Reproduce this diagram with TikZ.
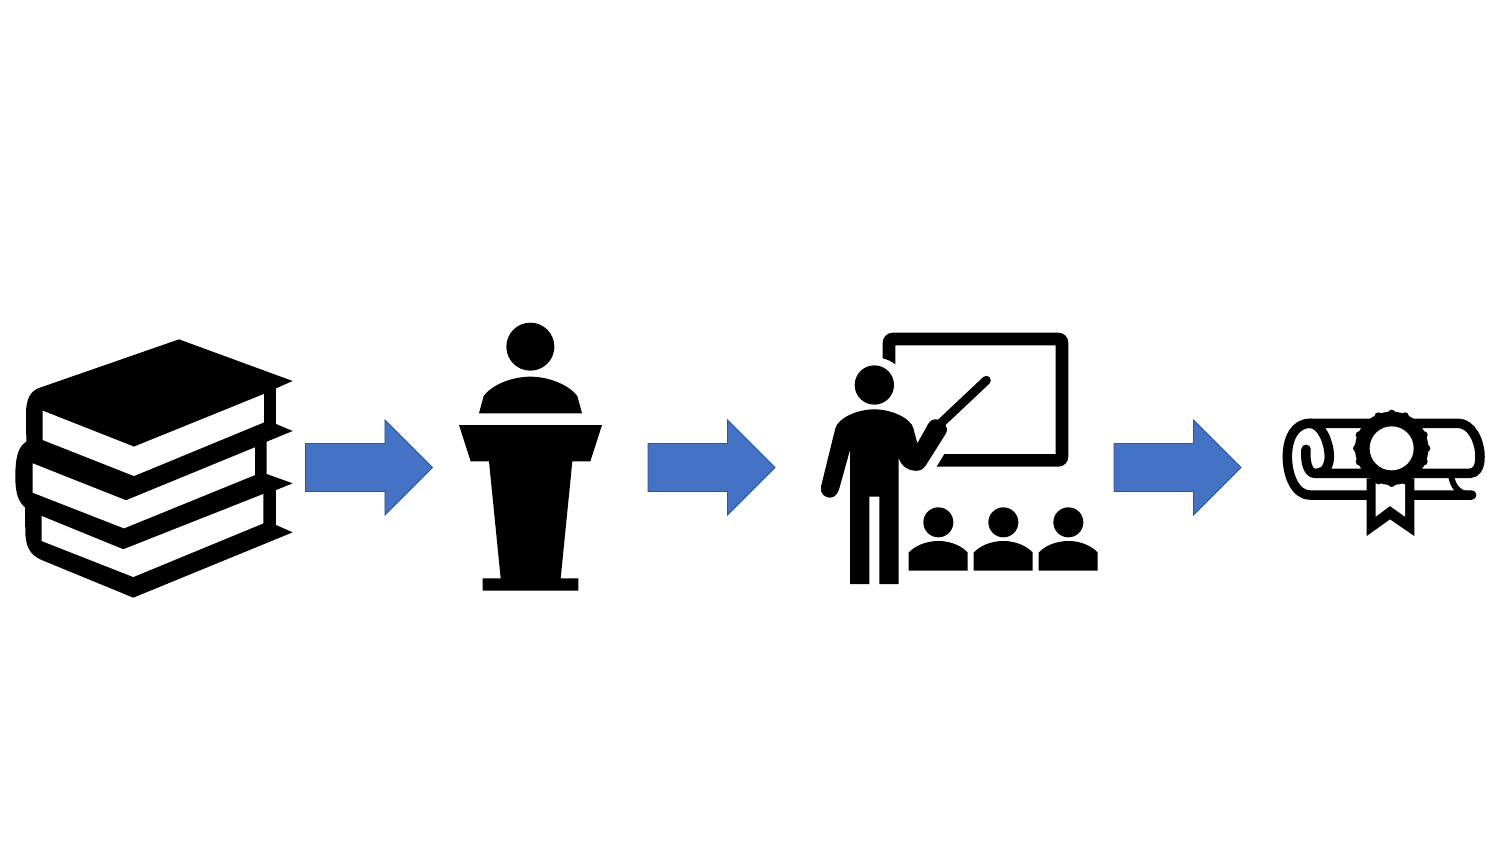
\documentclass[tikz,border=0pt]{standalone}
\usepackage{xcolor}
\usetikzlibrary{shapes.arrows}
\definecolor{ArrowBlue}{RGB}{68,114,196}
\definecolor{ArrowEdge}{RGB}{47,85,151}
\tikzset{
  icon/.style={fill=black,draw=none},
  page/.style={fill=white,draw=none},
  flowarrow/.style={single arrow,fill=ArrowBlue,draw=ArrowEdge,line width=0.8pt,
    minimum height=127pt,inner xsep=0pt,inner ysep=23.6pt,outer sep=0pt,
    single arrow head extend=23.6pt,single arrow head indent=0pt,anchor=tail},
  scrollline/.style={line width=9.5pt,line cap=round,line join=round},
  zoomed/.style={x=0.33333pt,y=-0.33333pt}
}
\begin{document}
\begin{tikzpicture}[x=1pt,y=-1pt]
  \useasboundingbox (0,0) rectangle (1499,843);
  % books
  \begin{scope}[shift={(0,320)},zoomed]
    \fill[icon] (120,203) -- (537,58) -- (878,183) -- (828,205) -- (828,312) -- (878,333)
      -- (800,365) -- (800,462) -- (878,490) -- (828,510) -- (828,615) -- (878,637)
      -- (400,833) -- (125,720) .. controls (90,705) and (78,680) .. (76,640) -- (75,562)
      .. controls (55,545) and (46,520) .. (46,470) .. controls (46,410) and (55,380) .. (79,365)
      -- (78,280) .. controls (78,240) and (90,212) .. (120,203) -- cycle;
    \fill[page] (128,272) -- (402,380) -- (792,222) -- (792,307) -- (402,468) -- (128,360) -- cycle;
    \fill[page] (98,430) -- (378,541) -- (765,382) -- (765,465) -- (372,625) -- (98,518) -- cycle;
    \fill[page] (125,588) -- (370,688) -- (790,522) -- (790,610) -- (400,771) -- (125,663) -- cycle;
  \end{scope}
  \node[flowarrow] (arrowa) at (305.5,467.5) {};
  % lectern
  \begin{scope}[shift={(445,310)},zoomed]
    \fill[icon] (256,110) circle[radius=72];
    \fill[icon] (102,310) -- (116,258) .. controls (140,225) and (200,200) .. (256,200)
      .. controls (312,200) and (372,225) .. (397,258) -- (411,310) -- cycle;
    \fill[icon] (42,345) -- (471,345) -- (436,454) -- (382,454) -- (347,805) -- (400,805)
      -- (400,842) -- (113,842) -- (113,805) -- (167,805) -- (132,454) -- (77,454) -- cycle;
  \end{scope}
  \node[flowarrow] (arrowb) at (648,467.5) {};
  % board, teacher and class
  \begin{scope}[shift={(810,320)},zoomed]
    \fill[icon] (218,115) [rounded corners=10pt] -- (218,38) -- (775,38) -- (775,440) [sharp corners] -- (380,440)
      -- (403,402) -- (737,402) -- (737,76) -- (256,76) -- (256,133) .. controls (246,125) and (232,118) .. (218,115) -- cycle;
    \fill[icon] (193,195) circle[radius=59];
    \fill[icon] (120,792) -- (178,792) -- (178,530) -- (208,530) -- (208,792) -- (266,792) -- (266,412)
      .. controls (272,440) and (300,455) .. (325,452) .. controls (338,450) and (345,440) .. (350,432)
      -- (408,340) .. controls (418,320) and (400,298) .. (375,298) .. controls (362,298) and (355,310) .. (350,320)
      -- (322,370) -- (310,325) .. controls (303,295) and (245,268) .. (193,268)
      .. controls (140,268) and (84,295) .. (76,325) -- (33,500)
      .. controls (28,520) and (45,533) .. (60,533) .. controls (75,533) and (84,520) .. (88,505)
      -- (120,390) -- cycle;
    \draw[line width=9pt,line cap=round] (390,312) -- (529,181);
    \foreach \dx in {0,195,390}{
      \fill[icon] (385+\dx,607) circle[radius=45];
      \fill[icon] (296+\dx,752) -- (296+\dx,698) .. controls (312+\dx,680) and (345+\dx,663) .. (385+\dx,663)
        .. controls (425+\dx,663) and (458+\dx,680) .. (473+\dx,698) -- (473+\dx,752) -- cycle;
    }
  \end{scope}
  \node[flowarrow] (arrowc) at (1114,467.5) {};
  % diploma
  \begin{scope}[shift={(1270,400)},zoomed]
    \draw[scrollline] (605,285) -- (120,285) .. controls (75,285) and (52,225) .. (52,170)
      .. controls (52,115) and (75,70) .. (120,70) -- (565,70)
      .. controls (605,70) and (630,125) .. (630,170) .. controls (630,200) and (620,220) .. (600,220)
      -- (135,220) .. controls (110,220) and (105,175) .. (108,148);
    \draw[scrollline] (120,70) .. controls (155,70) and (178,130) .. (178,170)
      .. controls (178,195) and (165,218) .. (148,218);
    \draw[line width=6pt,line cap=round] (543,225) .. controls (548,260) and (565,282) .. (605,285);
    \fill[icon] (290,235) -- (290,408) -- (360,358) -- (433,408) -- (433,235) -- cycle;
    \fill[page] (317,245) -- (317,350) -- (360,318) -- (405,350) -- (405,245) -- cycle;
    \foreach \ang in {0,22.5,...,340}{
      \fill[icon] (365,145) ++(\ang:104) circle[radius=12];
    }
    \fill[icon] (365,145) circle[radius=110];
    \fill[page] (365,145) circle[radius=66];
  \end{scope}
\end{tikzpicture}
\end{document}
